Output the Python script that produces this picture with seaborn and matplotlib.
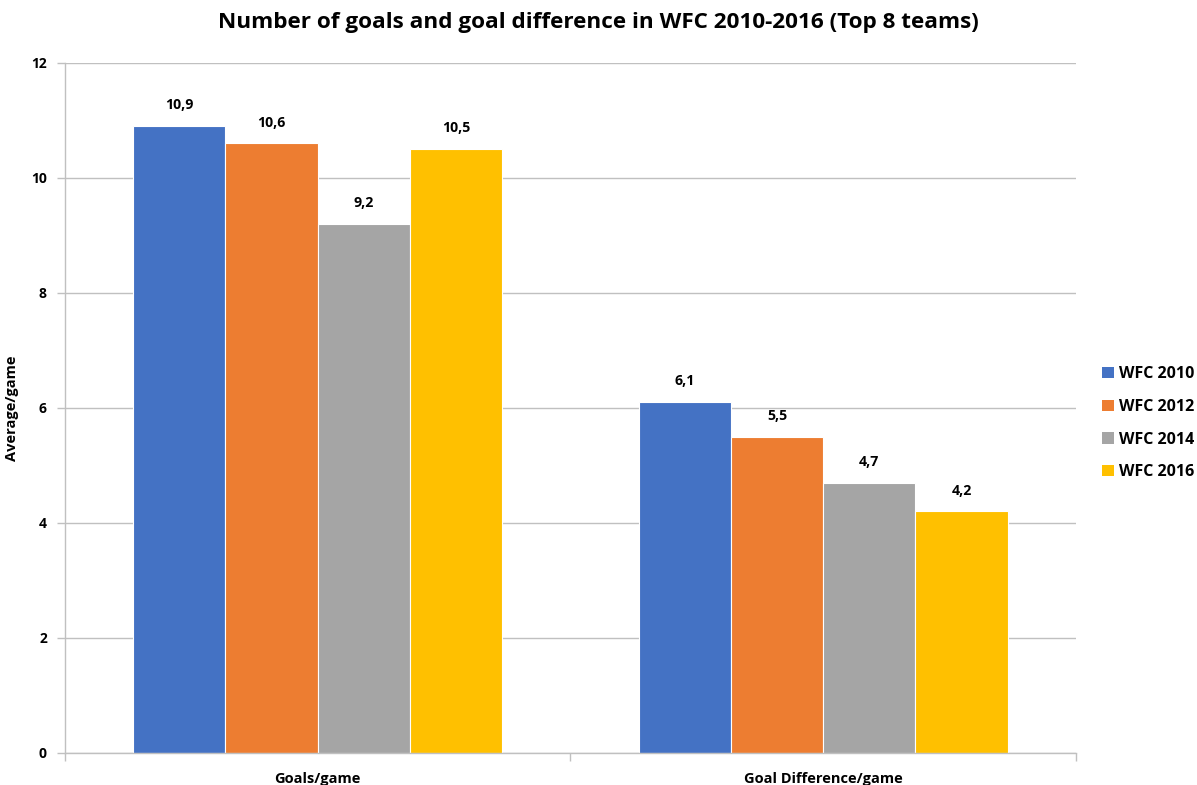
import matplotlib
matplotlib.use("Agg")
import matplotlib.pyplot as plt
import seaborn as sns
import pandas as pd
from matplotlib.ticker import FixedLocator
from matplotlib.patches import Patch

metrics = ["Goals/game", "Goal Difference/game"]
tournaments = ["WFC 2010", "WFC 2012", "WFC 2014", "WFC 2016"]
goals_per_game = [10.9, 10.6, 9.2, 10.5]
goal_diff_per_game = [6.1, 5.5, 4.7, 4.2]
y_ticks = [0, 2, 4, 6, 8, 10, 12]

colors = ["#4472C4", "#ED7D31", "#A5A5A5", "#FFC000"]

rows = []
for t, g, d in zip(tournaments, goals_per_game, goal_diff_per_game):
    rows.append({"metric": metrics[0], "tournament": t, "value": g})
    rows.append({"metric": metrics[1], "tournament": t, "value": d})
df = pd.DataFrame(rows)

sns.set_theme(style="white")
plt.rcParams["font.family"] = ["Open Sans", "DejaVu Sans"]
plt.rcParams["font.weight"] = "bold"
plt.rcParams["text.color"] = "#000000"

fig = plt.figure(figsize=(11.97, 7.85), dpi=100)
ax = fig.add_axes([0.0543, 0.0408, 0.8446, 0.879])

sns.barplot(data=df, x="metric", y="value", hue="tournament", order=metrics,
            hue_order=tournaments, palette=colors, width=0.73, saturation=1,
            edgecolor="white", linewidth=0.8, legend=False, ax=ax)

for container in ax.containers:
    labels = [f"{v:.1f}".replace(".", ",") for v in container.datavalues]
    ax.bar_label(container, labels=labels, padding=10, fontsize=10.2,
                 fontweight="bold", color="#000000")

ax.set_ylim(0, 12)
ax.set_xlim(-0.5, 1.5)
ax.set_yticks(y_ticks)
ax.set_yticklabels([str(v) for v in y_ticks], fontsize=10, fontweight="bold",
                   color="#000000")
ax.yaxis.grid(True, color="#c0c0c0", linewidth=1)
ax.set_axisbelow(True)

ax.set_xticks([0, 1])
ax.set_xticklabels(metrics, fontsize=10.5, fontweight="bold", color="#000000")
ax.tick_params(axis="x", which="major", length=0, pad=14)
ax.xaxis.set_minor_locator(FixedLocator([-0.5, 0.5, 1.5]))
ax.tick_params(axis="x", which="minor", length=6, color="#c0c0c0", width=1,
               bottom=True, direction="out")
ax.tick_params(axis="y", length=6, color="#c0c0c0", width=1, left=True,
               direction="out", pad=7)

for side in ["top", "right"]:
    ax.spines[side].set_visible(False)
for side in ["left", "bottom"]:
    ax.spines[side].set_color("#c0c0c0")
    ax.spines[side].set_linewidth(1)

ax.set_xlabel("")
ax.set_ylabel("Average/game", fontsize=10.5, fontweight="bold", labelpad=9,
              color="#000000")

handles = [Patch(facecolor=c, edgecolor="none") for c in colors]
fig.legend(handles, tournaments, loc="center left", bbox_to_anchor=(0.921, 0.461),
           frameon=False, prop={"size": 11.5, "weight": "bold"},
           handlelength=0.7, handleheight=0.7, handletextpad=0.35,
           labelspacing=1.05, borderpad=0, borderaxespad=0)

fig.suptitle("Number of goals and goal difference in WFC 2010-2016 (Top 8 teams)",
             x=0.5, y=0.985, fontsize=16.2, fontweight="bold", color="#000000")

fig.savefig("out.png", dpi=100, facecolor="white")
